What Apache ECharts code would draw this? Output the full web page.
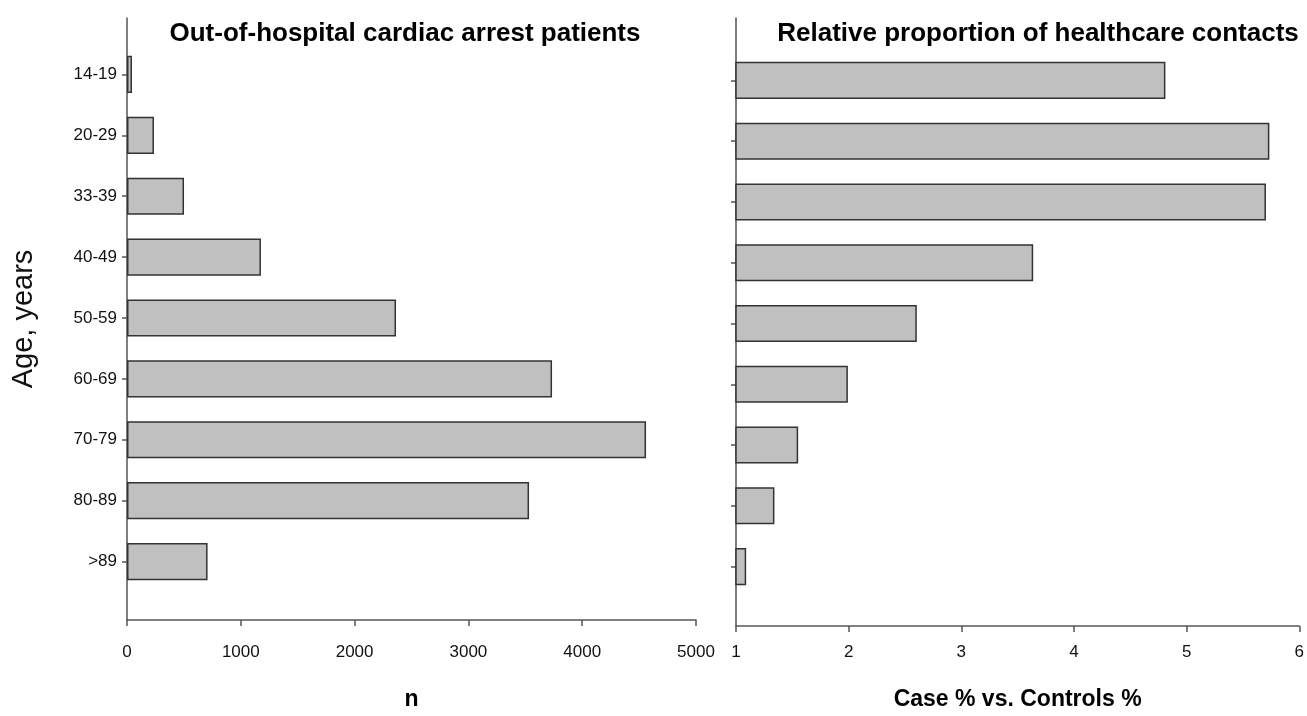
<!DOCTYPE html>
<html>
<head>
<meta charset="utf-8">
<script src="https://cdn.jsdelivr.net/npm/echarts@6/dist/echarts.min.js"></script>
<style>html,body{margin:0;padding:0;background:#fff}#c{width:1307px;height:716px}</style>
</head>
<body>
<div id="c"></div>
<script>
const ageGroups = ['14-19','20-29','33-39','40-49','50-59','60-69','70-79','80-89','>89'];
const patientCounts = [44, 237, 501, 1177, 2364, 3735, 4561, 3533, 708];
const relativeProportion = [4.80, 5.72, 5.69, 3.63, 2.60, 1.99, 1.55, 1.34, 1.09];
const leftTicks = [0, 1000, 2000, 3000, 4000, 5000];
const rightTicks = [1, 2, 3, 4, 5, 6];

const FONT = 'Liberation Sans, Arial, sans-serif';
const axisCol = '#555';
const lineStyle = {color: axisCol, width: 1.5};

const chart = echarts.init(document.getElementById('c'));
const hidden = {show: false};
chart.setOption({
  animation: false,
  backgroundColor: '#fff',
  title: [
    {text: 'Out-of-hospital cardiac arrest patients', left: 400, top: 16, textAlign: 'center',
     textStyle: {fontFamily: FONT, fontWeight: 'bold', fontSize: 26, color: '#000'}},
    {text: 'Relative proportion of healthcare contacts', left: 1033, top: 16, textAlign: 'center',
     textStyle: {fontFamily: FONT, fontWeight: 'bold', fontSize: 26, color: '#000'}}
  ],
  grid: [
    {left: 127, right: 611, top: 18, bottom: 94},
    {left: 127, right: 611, top: 44, bottom: 124},
    {left: 736, right: 6, top: 18, bottom: 88},
    {left: 736, right: 6, top: 50, bottom: 119}
  ],
  xAxis: [
    {gridIndex: 0, type: 'value', min: leftTicks[0], max: leftTicks[leftTicks.length-1], interval: 1000,
     axisLine: {show: true, onZero: false, lineStyle}, axisTick: {show: true, length: 6, lineStyle},
     splitLine: hidden,
     axisLabel: {fontFamily: FONT, fontSize: 17, color: '#111', margin: 24, formatter: v => String(v)},
     name: 'n', nameLocation: 'middle', nameGap: 68,
     nameTextStyle: {fontFamily: FONT, fontWeight: 'bold', fontSize: 23, color: '#000'}},
    {gridIndex: 1, type: 'value', min: leftTicks[0], max: leftTicks[leftTicks.length-1], show: false},
    {gridIndex: 2, type: 'value', min: rightTicks[0], max: rightTicks[rightTicks.length-1], interval: 1,
     axisLine: {show: true, onZero: false, lineStyle}, axisTick: {show: true, length: 6, lineStyle},
     splitLine: hidden,
     axisLabel: {fontFamily: FONT, fontSize: 17, color: '#111', margin: 18, formatter: v => String(v)},
     name: 'Case % vs. Controls %', nameLocation: 'middle', nameGap: 62,
     nameTextStyle: {fontFamily: FONT, fontWeight: 'bold', fontSize: 23, color: '#000'}},
    {gridIndex: 3, type: 'value', min: rightTicks[0], max: rightTicks[rightTicks.length-1], show: false}
  ],
  yAxis: [
    {gridIndex: 0, type: 'value', min: 0, max: 1, axisLine: {show: true, onZero: false, lineStyle},
     axisTick: hidden, axisLabel: hidden, splitLine: hidden,
     name: 'Age, years', nameLocation: 'middle', nameGap: 89, nameRotate: 90,
     nameTextStyle: {fontFamily: FONT, fontSize: 29, color: '#111', padding: [0, 0, 0, 0]}},
    {gridIndex: 1, type: 'category', data: ageGroups, inverse: true,
     axisLine: hidden, axisTick: {show: true, alignWithLabel: true, length: 5, lineStyle},
     axisLabel: {fontFamily: FONT, fontSize: 17, color: '#111', margin: 10}, splitLine: hidden},
    {gridIndex: 2, type: 'value', min: 0, max: 1, axisLine: {show: true, onZero: false, lineStyle},
     axisTick: hidden, axisLabel: hidden, splitLine: hidden},
    {gridIndex: 3, type: 'category', data: ageGroups, inverse: true,
     axisLine: hidden, axisTick: {show: true, alignWithLabel: true, length: 5, lineStyle},
     axisLabel: hidden, splitLine: hidden}
  ],
  series: [
    {type: 'bar', xAxisIndex: 1, yAxisIndex: 1, data: patientCounts, barWidth: '61%',
     itemStyle: {color: '#c0c0c0', borderColor: '#333', borderWidth: 1.5}},
    {type: 'bar', xAxisIndex: 3, yAxisIndex: 3, data: relativeProportion, barWidth: '61%', clip: true,
     itemStyle: {color: '#c0c0c0', borderColor: '#333', borderWidth: 1.5}}
  ]
});
</script>
</body>
</html>
